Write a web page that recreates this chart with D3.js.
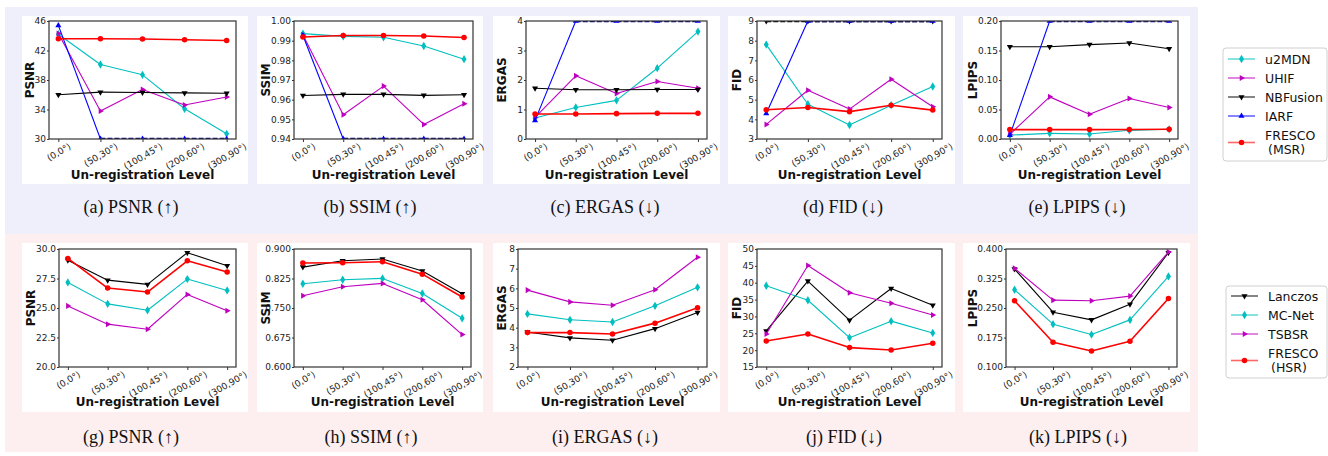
<!DOCTYPE html>
<html>
<head>
<meta charset="utf-8">
<script src="https://d3js.org/d3.v7.min.js"></script>
<style>
  body { margin: 0; background: #fff; }
  svg text { font-family: "DejaVu Sans", sans-serif; }
</style>
</head>
<body>
<script>
// ---- data ----
var levels = ["(0,0°)", "(50,30°)", "(100,45°)", "(200,60°)", "(300,90°)"];

var msrMethods = ["u2MDN", "UHIF", "NBFusion", "IARF", "FRESCO\n(MSR)"];
var hsrMethods = ["Lanczos", "MC-Net", "TSBSR", "FRESCO\n(HSR)"];

// one row per method, same order as msrMethods.
// values that run off the plot are kept at the axis limit (drawn dashed there)
var msrPSNR = [
  [44.2, 40.1, 38.7, 34.1, 30.7],
  [44.3, 33.8, 36.7, 34.6, 35.7],
  [36.0, 36.35, 36.3, 36.25, 36.2],
  [45.4, 30, 30, 30, 30],
  [43.6, 43.6, 43.55, 43.45, 43.35]
];
var msrSSIM = [
  [0.9936, 0.9922, 0.9917, 0.9873, 0.9806],
  [0.9929, 0.9523, 0.9669, 0.9474, 0.9579],
  [0.9621, 0.9627, 0.9627, 0.9622, 0.9625],
  [0.9926, 0.94, 0.94, 0.94, 0.94],
  [0.9919, 0.9926, 0.9926, 0.9924, 0.9916]
];
var msrERGAS = [
  [0.71, 1.07, 1.31, 2.40, 3.64],
  [0.73, 2.14, 1.54, 1.95, 1.72],
  [1.72, 1.67, 1.67, 1.68, 1.68],
  [0.63, 4, 4, 4, 4],
  [0.85, 0.85, 0.86, 0.87, 0.87]
];
var msrFID = [
  [7.8, 4.77, 3.71, 4.72, 5.67],
  [3.74, 5.48, 4.52, 6.04, 4.64],
  [9, 9, 9, 9, 9],
  [4.3, 9, 9, 9, 9],
  [4.49, 4.6, 4.39, 4.72, 4.47]
];
var msrLPIPS = [
  [0.0065, 0.0096, 0.0085, 0.0147, 0.0164],
  [0.008, 0.0714, 0.0419, 0.0686, 0.0533],
  [0.1564, 0.1564, 0.160, 0.1626, 0.153],
  [0.0062, 0.20, 0.20, 0.20, 0.20],
  [0.0159, 0.0159, 0.0159, 0.0162, 0.0166]
];

// same order as hsrMethods
var hsrPSNR = [
  [29.04, 27.36, 27.0, 29.69, 28.58],
  [27.17, 25.35, 24.81, 27.45, 26.49],
  [25.18, 23.63, 23.2, 26.15, 24.76],
  [29.2, 26.69, 26.35, 29.0, 28.05]
];
var hsrSSIM = [
  [0.854, 0.870, 0.8745, 0.844, 0.786],
  [0.8116, 0.8218, 0.8252, 0.787, 0.724],
  [0.781, 0.804, 0.8125, 0.771, 0.6825],
  [0.8643, 0.865, 0.8677, 0.836, 0.778]
];
var hsrERGAS = [
  [3.78, 3.48, 3.36, 3.95, 4.77],
  [4.70, 4.40, 4.29, 5.11, 6.05],
  [5.91, 5.31, 5.14, 5.93, 7.58],
  [3.75, 3.75, 3.68, 4.23, 5.01]
];
var hsrFID = [
  [25.7, 40.5, 28.9, 38.3, 33.3],
  [39.1, 34.8, 23.7, 28.6, 25.1],
  [24.8, 45.1, 37.0, 33.9, 30.4],
  [22.7, 24.8, 20.75, 20.06, 22.04]
];
var hsrLPIPS = [
  [0.349, 0.2394, 0.2198, 0.2598, 0.3907],
  [0.2963, 0.2088, 0.1824, 0.2198, 0.3303],
  [0.3507, 0.270, 0.2683, 0.2802, 0.3924],
  [0.2683, 0.1629, 0.1408, 0.1655, 0.2742]
];

var ticksPSNRm = [30, 34, 38, 42, 46];
var ticksSSIMm = [0.94, 0.95, 0.96, 0.97, 0.98, 0.99, 1.00];
var ticksERGASm = [0, 1, 2, 3, 4];
var ticksFIDm = [3, 4, 5, 6, 7, 8, 9];
var ticksLPIPSm = [0, 0.05, 0.10, 0.15, 0.20];
var ticksPSNRh = [20, 22.5, 25, 27.5, 30];
var ticksSSIMh = [0.6, 0.675, 0.75, 0.825, 0.9];
var ticksERGASh = [2, 3, 4, 5, 6, 7, 8];
var ticksFIDh = [15, 20, 25, 30, 35, 40, 45, 50];
var ticksLPIPSh = [0.1, 0.175, 0.25, 0.325, 0.4];

var metricNames = ["PSNR", "SSIM", "ERGAS", "FID", "LPIPS"];
var captionsMSR = ["(a) PSNR (↑)", "(b) SSIM (↑)", "(c) ERGAS (↓)", "(d) FID (↓)", "(e) LPIPS (↓)"];
var captionsHSR = ["(g) PSNR (↑)", "(h) SSIM (↑)", "(i) ERGAS (↓)", "(j) FID (↓)", "(k) LPIPS (↓)"];

// ---- styles ----
var thinDiamond = {
  draw: function(ctx, size) {
    var h = Math.sqrt(size) * 0.85, w = h * 0.6;
    ctx.moveTo(0, -h); ctx.lineTo(w, 0); ctx.lineTo(0, h); ctx.lineTo(-w, 0); ctx.closePath();
  }
};
var styleOf = {
  "u2MDN":   {color: "#00bfbf", sym: thinDiamond, size: 24, rot: 0},
  "MC-Net":  {color: "#00bfbf", sym: thinDiamond, size: 24, rot: 0},
  "UHIF":    {color: "#bf00bf", sym: d3.symbolTriangle, size: 16, rot: 90},
  "TSBSR":   {color: "#bf00bf", sym: d3.symbolTriangle, size: 16, rot: 90},
  "NBFusion":{color: "#000000", sym: d3.symbolTriangle, size: 16, rot: 180},
  "Lanczos": {color: "#000000", sym: d3.symbolTriangle, size: 16, rot: 180},
  "IARF":    {color: "#0000ff", sym: d3.symbolTriangle, size: 16, rot: 0},
  "FRESCO\n(MSR)": {color: "#ff0000", sym: d3.symbolCircle, size: 24, rot: 0, lw: 1.6},
  "FRESCO\n(HSR)": {color: "#ff0000", sym: d3.symbolCircle, size: 24, rot: 0, lw: 1.6}
};

var fmt0 = d3.format("d"), fmt1 = d3.format(".1f"), fmt2 = d3.format(".2f"), fmt3 = d3.format(".3f");

var rows = [
  {methods: msrMethods, series: [msrPSNR, msrSSIM, msrERGAS, msrFID, msrLPIPS],
   ticks: [ticksPSNRm, ticksSSIMm, ticksERGASm, ticksFIDm, ticksLPIPSm],
   fmts: [fmt0, fmt2, fmt0, fmt0, fmt2], captions: captionsMSR,
   top: 21, bottom: 139, panelY: [16, 184], band: [7, 234], bandColor: "#efeffb",
   lefts: [49, 294, 526, 757, 1001], rights: [236, 473, 707, 942, 1178],
   ylabX: [30, 266, 502, 737, 973], panelX: [[22, 248], [257, 483], [493, 720], [728, 955], [963, 1190]],
   capX: [131, 370, 605, 843, 1077], capY: 213, titleY: 178.5,
   legend: {x: 1223, y: 48, w: 104, h: 113, rowY: [59, 78, 97, 116, 142.5]}},
  {methods: hsrMethods, series: [hsrPSNR, hsrSSIM, hsrERGAS, hsrFID, hsrLPIPS],
   ticks: [ticksPSNRh, ticksSSIMh, ticksERGASh, ticksFIDh, ticksLPIPSh],
   fmts: [fmt1, fmt3, fmt0, fmt0, fmt3], captions: captionsHSR,
   top: 249, bottom: 367, panelY: [243, 412], band: [234, 452], bandColor: "#fdeff0",
   lefts: [59, 294, 518, 757, 1006], rights: [236, 471, 707, 942, 1177],
   ylabX: [31, 266, 502, 737, 973], panelX: [[22, 248], [257, 483], [493, 720], [728, 955], [963, 1190]],
   capX: [131, 371, 605, 844, 1078], capY: 443, titleY: 406,
   legend: {x: 1226, y: 286, w: 101, h: 92, rowY: [296, 315, 334, 360.5]}}
];

var width = 1328, height = 456;
var svg = d3.select("body").append("svg")
    .attr("width", width)
    .attr("height", height);

var clipId = 0;
var tickFont = 9;

function marker(sel, st) {
  sel.append("path")
    .attr("d", d3.symbol().type(st.sym).size(st.size)())
    .attr("transform", function(d) { return "translate(" + d[0] + "," + d[1] + ") rotate(" + st.rot + ")"; })
    .attr("fill", st.color);
}

rows.forEach(function(row) {
  svg.append("rect")
    .attr("x", 5).attr("y", row.band[0])
    .attr("width", 1193).attr("height", row.band[1] - row.band[0])
    .attr("fill", row.bandColor);

  metricNames.forEach(function(name, k) {
    var l = row.lefts[k], r = row.rights[k], t = row.top, b = row.bottom;
    var ticks = row.ticks[k];
    var lo = ticks[0], hi = ticks[ticks.length - 1];

    svg.append("rect")
      .attr("x", row.panelX[k][0]).attr("y", row.panelY[0])
      .attr("width", row.panelX[k][1] - row.panelX[k][0])
      .attr("height", row.panelY[1] - row.panelY[0])
      .attr("fill", "#fff");

    var x = d3.scalePoint().domain(levels).range([l, r]).padding(2 / 9);
    var y = d3.scaleLinear().domain([lo, hi]).range([b, t]);

    var g = svg.append("g");

    var cid = "clip" + (clipId++);
    g.append("clipPath").attr("id", cid)
      .append("rect").attr("x", l).attr("y", t).attr("width", r - l).attr("height", b - t);

    var plot = g.append("g").attr("clip-path", "url(#" + cid + ")");

    var atLimit = function(v) { return v <= lo || v >= hi; };
    row.series[k].forEach(function(vals, m) {
      var st = styleOf[row.methods[m]];
      var pts = vals.map(function(v, i) { return [x(levels[i]), y(v)]; });
      for (var i = 0; i < pts.length - 1; i++) {
        var dashed = atLimit(vals[i]) && atLimit(vals[i + 1]);
        plot.append("path")
          .attr("d", d3.line()([pts[i], pts[i + 1]]))
          .attr("fill", "none")
          .attr("stroke", dashed ? d3.interpolateRgb(st.color, "#000")(0.45) : st.color)
          .attr("stroke-width", dashed ? 2.4 : (st.lw || 1.1))
          .attr("stroke-dasharray", dashed ? "5,2" : null);
      }
      plot.selectAll(null).data(pts).enter().call(marker, st);
    });

    // frame
    g.append("rect")
      .attr("x", l).attr("y", t).attr("width", r - l).attr("height", b - t)
      .attr("fill", "none").attr("stroke", "#333").attr("stroke-width", 1.2);

    var yAxis = g.append("g")
      .attr("transform", "translate(" + l + ",0)")
      .call(d3.axisLeft(y).tickValues(ticks).tickFormat(row.fmts[k]).tickSize(2).tickPadding(1));
    var xAxis = g.append("g")
      .attr("transform", "translate(0," + b + ")")
      .call(d3.axisBottom(x).tickSize(3).tickPadding(2));

    [yAxis, xAxis].forEach(function(a) {
      a.select(".domain").remove();
      a.selectAll("line").attr("stroke", "#333");
      a.selectAll("text").attr("fill", "#222").style("font-size", tickFont + "px");
    });

    xAxis.selectAll("text")
      .attr("y", 0).attr("dy", "0.35em")
      .attr("text-anchor", "middle")
      .attr("transform", function() {
        var w = this.getComputedTextLength();
        return "translate(0," + (5 + w * 0.25 + 1.5) + ") rotate(-30)";
      });

    g.append("text")
      .attr("transform", "translate(" + (row.ylabX[k] + 4.4) + "," + ((t + b) / 2) + ") rotate(-90)")
      .attr("text-anchor", "middle")
      .style("font-size", "12px").style("font-weight", "bold")
      .attr("fill", "#111")
      .text(name);

    g.append("text")
      .attr("x", (l + r) / 2).attr("y", row.titleY)
      .attr("text-anchor", "middle")
      .style("font-size", "12px").style("font-weight", "bold")
      .attr("fill", "#111")
      .text("Un-registration Level");

    svg.append("text")
      .attr("x", row.capX[k]).attr("y", row.capY)
      .attr("text-anchor", "middle")
      .style("font-family", "'Liberation Serif', serif")
      .style("font-size", "18px")
      .attr("fill", "#111")
      .text(row.captions[k]);
  });

  // legend
  var lg = row.legend;
  var leg = svg.append("g");
  leg.append("rect")
    .attr("x", lg.x).attr("y", lg.y).attr("width", lg.w).attr("height", lg.h)
    .attr("rx", 3)
    .attr("fill", "#fff").attr("stroke", "#d0d0d0");
  row.methods.forEach(function(mname, m) {
    var st = styleOf[mname];
    var cy = lg.rowY[m];
    leg.append("line")
      .attr("x1", lg.x + 5).attr("x2", lg.x + 32)
      .attr("y1", cy).attr("y2", cy)
      .attr("stroke", st.color).attr("stroke-opacity", 0.6)
      .attr("stroke-width", 1.6);
    leg.selectAll(null).data([[lg.x + 18.5, cy]]).enter().call(marker, st);
    var lines = mname.split("\n");
    var txt = leg.append("text")
      .attr("x", lg.x + 42)
      .style("font-size", "12.5px")
      .attr("fill", "#111");
    lines.forEach(function(s, i) {
      txt.append("tspan")
        .attr("x", lg.x + 42 + (i > 0 ? 3 : 0))
        .attr("y", cy + 4.5 + (i - (lines.length - 1) / 2) * 14.5)
        .text(s);
    });
  });
});
</script>
</body>
</html>
